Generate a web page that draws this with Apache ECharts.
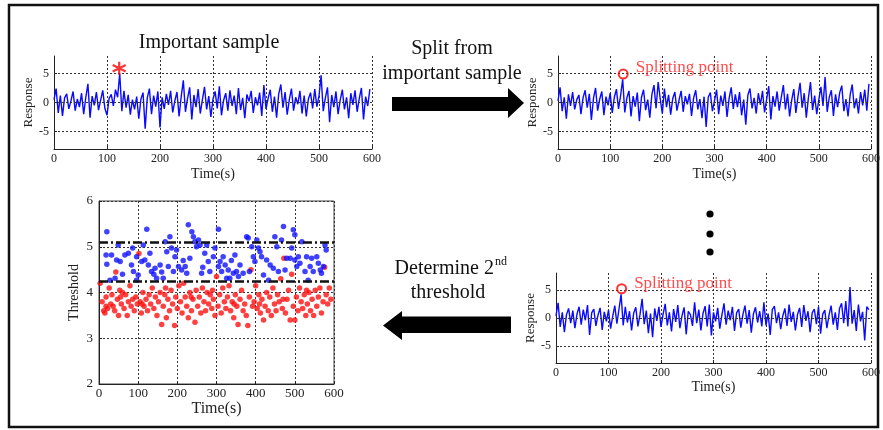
<!DOCTYPE html>
<html>
<head>
<meta charset="utf-8">
<script src="https://cdn.jsdelivr.net/npm/echarts@6/dist/echarts.min.js"></script>
<style>html,body{margin:0;padding:0;background:#fff;}#chart{width:883px;height:430px;}</style>
</head>
<body>
<div id="chart"></div>
<script>
// ---------------- DATA ----------------
const timeTicks = [0, 100, 200, 300, 400, 500, 600];
const responseTicks = [-5, 0, 5];
const thresholdTicks = [2, 3, 4, 5, 6];
const sampleStep = 4; // seconds between samples

// Response of the important sample (top-left)
const responseImportant = [
  0.5, 2.4, -1.8, 1.2, -2.3, 0.8, 1.5, -1.1, 0.3, 1.9,
  -1.4, 0.6, -0.8, 1.6, -2.0, 0.9, 3.2, -2.6, 1.1, -0.5,
  1.8, -1.3, 0.4, 2.1, -1.0, -2.2, 0.7, 1.4, -0.6, 2.2,
  0.9, 5.0, -1.5, 2.0, -0.9, 1.3, -2.1, 0.5, -1.2, 1.0,
  -2.8, 0.6, 1.7, -4.5, 0.8, 2.4, -2.0, 1.2, -0.7, 1.9,
  -4.3, 0.9, -1.1, 1.5, -0.4, 2.0, -1.7, 0.3, 1.8, -2.4,
  1.0, 3.8, -1.6, 0.7, 2.6, -2.9, 1.3, -0.8, 2.3, -1.9,
  0.5, 2.7, -1.2, 1.1, -2.5, 0.6, 1.9, -1.0, 2.8, -2.2,
  0.4, 1.6, -1.4, 2.1, -0.6, 1.2, -2.0, 2.5, -1.3, 0.8,
  -2.7, 1.4, 0.2, 2.0, -1.8, 0.9, -0.5, 1.7, -2.3, 3.0,
  -1.1, 0.7, 2.2, -1.6, 1.0, -2.6, 1.5, 3.1, -0.9, 1.8,
  -2.1, 0.5, 2.4, -1.4, 0.9, -0.3, 2.0, -1.9, 1.2, -2.4,
  0.6, 1.7, -1.0, 2.3, -0.7, 1.1, 4.7, -1.5, 0.8, 2.6,
  -3.4, 1.3, -0.8, 1.9, -2.0, 0.4, 2.2, -1.2, 0.9, -2.7,
  1.6, -0.4, 2.1, -1.6, 0.7, 2.5, -2.9, 1.0, -0.6, 2.3
];
// Response after first split (top-right)
const responseSplit1 = [
  0.3, 2.6, -1.5, 0.9, -2.8, 1.4, -0.6, 1.8, -1.2, 0.5,
  1.3, -2.0, 0.8, 2.1, -0.9, 1.5, -3.0, 0.7, 2.5, -1.4,
  0.6, 1.9, -2.2, 1.0, -0.5, 1.6, -1.8, 0.9, 2.3, -1.1,
  1.2, 4.0, -1.7, 0.8, 2.0, -2.4, 1.1, -0.7, 1.7, -3.2,
  0.9, 2.2, -1.3, 0.5, -2.6, 1.4, 3.0, -1.0, 3.5, 0.6,
  -1.9, 2.4, -0.8, 1.3, -2.1, 0.7, 1.8, -1.4, 0.4, 2.0,
  -1.6, 1.1, -0.3, 1.5, -2.3, 0.8, 2.1, -1.2, 0.6, -2.7,
  1.0, -4.2, 0.9, 1.7, -1.5, 0.3, 2.2, -2.0, 1.2, -0.6,
  1.9, -2.5, 0.7, 2.6, -1.1, 1.4, -0.8, 1.8, -2.2, 0.5,
  -3.8, 1.3, 2.4, -1.0, 0.8, -1.9, 1.6, -0.4, 2.0, -1.7,
  0.6, 2.8, -2.9, 1.1, -0.7, 1.9, -1.4, 0.9, 3.0, -1.2,
  1.5, -2.4, 0.4, 2.3, -1.8, 1.0, 3.4, -0.9, 1.6, -2.6,
  0.8, 3.5, -1.3, 1.2, -2.0, 0.5, 2.7, -0.6, 4.4, -1.6,
  0.9, 2.1, -2.3, 1.4, -0.8, 1.7, 2.9, -1.5, 0.6, -2.4,
  1.3, 3.1, -1.0, 0.7, -1.9, 1.8, -0.5, 2.2, -1.4, 3.2
];
// Response after a later split (bottom-right)
const responseSplit2 = [
  0.4, 2.7, -1.6, 1.0, -2.5, 0.6, 1.7, -0.9, 1.3, -1.8,
  0.7, 2.0, -1.2, 1.5, -0.4, 2.3, -3.0, 0.9, 1.6, -1.4,
  0.5, 1.8, -2.1, 1.1, -0.6, 1.4, -1.9, 0.3, 2.2, -1.0,
  1.6, 4.2, -1.3, 2.0, -0.8, 1.2, -2.2, 0.9, 1.9, -1.5,
  0.6, 3.4, -1.1, 1.3, -2.7, 0.8, -3.4, 1.7, -0.5, 2.0,
  -1.6, 0.7, 2.5, -1.3, 1.0, -2.4, 1.6, -0.7, 2.3, -1.8,
  0.4, 1.9, -2.9, 1.2, 0.6, -1.4, 2.8, -0.9, 1.5, -2.2,
  0.8, 2.1, -1.5, 2.4, -3.1, 1.0, -0.6, 1.8, -1.9, 0.5,
  2.6, -1.2, 1.3, -0.4, 2.0, -2.3, 0.9, 1.6, -1.7, 0.6,
  2.2, -1.0, 1.4, -2.6, 0.7, 1.9, -0.8, 1.2, -1.5, 2.8,
  -1.3, 0.8, -3.0, 1.5, 2.1, -0.9, 1.0, -2.0, 0.4, 1.7,
  -1.4, 2.4, -0.7, 1.1, -2.2, 0.6, 1.8, -1.6, 2.3, -0.5,
  1.2, -2.5, 0.9, 1.6, -1.1, 2.0, -2.8, 0.7, 1.4, -1.8,
  0.5, 2.2, -1.2, 1.0, -2.1, 1.7, 2.6, -0.9, 3.0, -1.5,
  5.5, -1.0, 1.4, -2.3, 2.4, -0.6, 1.1, -4.0, 2.0, 1.5
];
const importantPoint = [[123, 5.9]];
const splitPoint1 = [[125, 4.9]];
const splitPoint2 = [[125, 5.2]];

// Threshold scatter (bottom-left)
const thresholdBlue = [
  [20,5.33],[18,4.82],[20,4.62],[32,4.82],[49,5.04],[45,4.71],[54,4.68],[41,4.31],[28,4.27],[66,4.82],
  [75,4.86],[83,4.6],[86,4.97],[96,4.78],[88,4.46],[100,4.38],[96,4.27],[122,5.38],[113,5.04],[109,4.68],
  [117,4.71],[130,4.86],[126,4.6],[134,4.46],[147,4.31],[143,4.53],[156,4.6],[164,4.31],[169,5.11],[181,5.22],
  [173,4.89],[185,4.97],[177,4.57],[190,4.46],[194,4.78],[198,4.93],[203,4.57],[211,4.49],[224,4.42],[220,4.57],
  [228,5.48],[237,5.33],[232,4.75],[241,5.22],[245,5.11],[249,5.0],[254,5.15],[258,5.04],[262,4.42],[270,4.86],
  [275,5.04],[279,4.68],[283,4.46],[292,4.78],[296,4.97],[305,5.38],[305,4.57],[309,4.68],[313,4.46],[317,4.78],
  [322,4.6],[326,4.31],[330,4.49],[334,4.31],[343,4.42],[347,4.82],[351,4.46],[356,4.35],[360,4.6],[368,4.42],
  [377,5.22],[381,5.19],[384,4.46],[390,5.0],[394,4.78],[398,4.68],[403,5.15],[407,4.97],[411,4.89],[415,4.78],
  [420,4.38],[428,4.71],[433,4.27],[437,4.6],[445,4.53],[449,5.22],[454,5.0],[458,4.46],[466,5.15],[471,5.44],
  [475,4.49],[479,4.75],[488,4.75],[492,4.97],[496,5.37],[500,5.26],[500,4.71],[505,4.57],[509,4.78],[513,4.64],
  [518,5.11],[526,4.46],[530,4.78],[534,4.27],[539,4.57],[543,4.75],[547,4.46],[556,4.78],[560,4.64],[565,4.49],
  [568,4.42],[577,5.04],[580,4.93],[573,4.57],[60,4.4],[140,4.4],[160,4.45],[215,4.7],[265,4.55],[338,4.7]
];
const thresholdRed = [
  [3,4.2],[8,3.8],[12,3.6],[15,3.55],[18,3.9],[22,3.65],[26,4.1],[30,3.75],[33,3.95],[36,3.7],
  [40,3.6],[43,4.45],[47,3.85],[50,3.5],[53,4.05],[57,3.75],[60,4.0],[64,3.65],[68,3.95],[72,3.5],
  [75,3.8],[79,4.15],[82,3.7],[86,3.85],[90,3.6],[94,3.9],[98,3.75],[102,4.85],[105,3.8],[108,3.55],
  [112,4.0],[115,3.7],[120,3.85],[124,3.6],[128,3.95],[132,3.75],[136,4.1],[140,3.65],[144,3.9],[148,3.5],
  [152,3.8],[156,4.0],[160,3.3],[164,3.7],[168,3.95],[172,3.45],[176,3.85],[180,3.6],[184,4.05],[188,3.75],
  [193,3.28],[196,3.9],[200,3.65],[204,4.15],[208,3.8],[212,3.55],[216,4.2],[220,3.9],[224,3.7],[228,3.45],
  [232,4.0],[236,3.6],[240,3.85],[245,3.35],[248,4.05],[252,3.7],[256,3.9],[260,3.55],[264,4.1],[268,3.8],
  [272,3.6],[276,4.0],[280,3.75],[284,3.95],[288,3.65],[292,3.85],[296,3.5],[300,4.35],[304,3.7],[308,3.95],
  [312,3.55],[316,4.1],[320,3.8],[324,3.65],[328,3.9],[332,4.15],[336,3.6],[340,3.8],[344,3.45],[348,3.95],
  [352,3.7],[355,3.3],[360,3.85],[364,4.05],[368,3.6],[372,3.75],[376,3.5],[380,3.28],[384,3.9],[388,4.5],
  [392,3.7],[396,3.8],[400,4.15],[404,3.65],[408,3.95],[412,3.55],[416,3.85],[420,3.4],[424,3.7],[428,4.0],
  [432,3.6],[436,3.9],[440,3.5],[444,4.1],[448,3.75],[452,3.6],[456,3.95],[460,3.8],[464,4.3],[468,3.65],
  [472,4.75],[476,3.55],[480,3.85],[484,4.05],[488,3.4],[492,4.4],[496,3.7],[500,3.4],[504,3.9],[508,3.6],
  [512,4.1],[516,3.8],[520,3.65],[524,3.95],[528,3.5],[532,3.75],[536,4.0],[540,3.6],[544,3.85],[548,3.5],
  [552,4.05],[556,3.7],[560,3.9],[564,4.1],[568,3.55],[572,3.8],[576,4.55],[580,3.95],[584,3.75],[588,4.1],
  [592,3.85],[18,3.7],[55,3.9],[110,3.75],[170,4.1],[235,3.9],[290,4.05],[345,3.75],[410,3.75],[470,3.85],[530,4.05]
];
const thresholdLines = [5.1, 4.25];

// ---------------- CHART ----------------
const serif = "'Liberation Serif', 'Times New Roman', serif";
const ink = '#222';
const toXY = arr => arr.map((v, i) => [i * sampleStep, v]);

function timeAxis(gi, nameGap, labelSize, nameSize, margin) {
  return {
    gridIndex: gi, type: 'value', min: 0, max: 600, interval: 100,
    axisLine: { show: true, onZero: false, lineStyle: { color: ink, width: 1 } },
    axisTick: { show: true, inside: true, length: 3, lineStyle: { color: ink } },
    axisLabel: { fontFamily: serif, fontSize: labelSize, color: ink, margin: margin },
    splitLine: { show: true, lineStyle: { type: [2, 2], color: '#333', width: 1 } },
    name: 'Time(s)', nameLocation: 'middle', nameGap: nameGap,
    nameTextStyle: { fontFamily: serif, fontSize: nameSize, color: ink }
  };
}
function respAxis(gi, nameGap) {
  return {
    gridIndex: gi, type: 'value', min: -8, max: 8,
    axisLine: { show: true, onZero: false, lineStyle: { color: ink, width: 1 } },
    axisTick: { show: true, inside: true, length: 3, customValues: responseTicks, lineStyle: { color: ink } },
    axisLabel: { customValues: responseTicks, fontFamily: serif, fontSize: 12, color: ink, margin: 5 },
    splitLine: { show: false },
    name: 'Response', nameLocation: 'middle', nameGap: nameGap, nameRotate: 90,
    nameTextStyle: { fontFamily: serif, fontSize: 13, color: ink }
  };
}
const gridLinesY = {
  silent: true, symbol: ['none', 'none'], animation: false,
  label: { show: false },
  lineStyle: { type: [2, 2], color: '#333', width: 1 },
  data: responseTicks.map(v => ({ yAxis: v }))
};
function noiseSeries(gi, data) {
  return [
    { type: 'line', xAxisIndex: gi, yAxisIndex: gi, data: [], symbol: 'none', z: 1,
      markLine: gridLinesY },
    { type: 'line', xAxisIndex: gi, yAxisIndex: gi, data: toXY(data), symbol: 'none', z: 3,
      lineStyle: { color: '#0a0aff', width: 1.4 }, animation: false }
  ];
}
function splitMarker(gi, data, offY) {
  return {
    type: 'scatter', xAxisIndex: gi, yAxisIndex: gi, data: data, symbol: 'circle', symbolSize: 9, z: 5,
    itemStyle: { color: 'rgba(0,0,0,0)', borderColor: '#ff0000', borderWidth: 2 },
    label: { show: true, position: 'right', distance: 7, offset: [0, offY], formatter: 'Splitting point',
      fontFamily: serif, fontSize: 17, color: '#ff2020' }
  };
}

const chart = echarts.init(document.getElementById('chart'));
chart.setOption({
  animation: false,
  backgroundColor: '#ffffff',
  grid: [
    { left: 54, top: 56, width: 318, height: 93 },
    { left: 558, top: 56, width: 314, height: 93 },
    { left: 556, top: 273, width: 315, height: 90 },
    { left: 99, top: 201, width: 235, height: 183, show: true, borderColor: '#444', borderWidth: 1, backgroundColor: 'transparent' }
  ],
  xAxis: [
    timeAxis(0, 18, 12, 14, 4),
    timeAxis(1, 18, 12, 14, 4),
    timeAxis(2, 17, 12, 14, 4),
    timeAxis(3, 10, 13, 16, 3)
  ],
  yAxis: [
    respAxis(0, 17),
    respAxis(1, 19),
    respAxis(2, 18),
    {
      gridIndex: 3, type: 'value', min: 2, max: 6, interval: 1,
      axisLine: { show: true, lineStyle: { color: ink } },
      axisTick: { show: true, inside: true, length: 3, lineStyle: { color: ink } },
      axisLabel: { fontFamily: serif, fontSize: 13, color: ink, margin: 6 },
      splitLine: { show: true, lineStyle: { type: [2, 2], color: '#333', width: 1 } },
      name: 'Threshold', nameLocation: 'middle', nameGap: 18, nameRotate: 90,
      nameTextStyle: { fontFamily: serif, fontSize: 14, color: ink }
    }
  ],
  series: [
    ...noiseSeries(0, responseImportant),
    ...noiseSeries(1, responseSplit1),
    ...noiseSeries(2, responseSplit2),
    {
      type: 'scatter', xAxisIndex: 0, yAxisIndex: 0, data: importantPoint, z: 5,
      symbol: 'path://M0,-10L0,10M-8.66,-5L8.66,5M-8.66,5L8.66,-5', symbolSize: 13,
      itemStyle: { color: 'rgba(0,0,0,0)', borderColor: '#ff0000', borderWidth: 2.2 }
    },
    splitMarker(1, splitPoint1, -6),
    splitMarker(2, splitPoint2, -5),
    {
      type: 'scatter', xAxisIndex: 3, yAxisIndex: 3, data: thresholdRed, symbol: 'circle', symbolSize: 5.5, z: 3,
      itemStyle: { color: '#ff1010' }
    },
    {
      type: 'scatter', xAxisIndex: 3, yAxisIndex: 3, data: thresholdBlue, symbol: 'circle', symbolSize: 5.5, z: 3,
      itemStyle: { color: '#1010ff' },
      markLine: {
        silent: true, symbol: ['none', 'none'], animation: false, label: { show: false },
        lineStyle: { type: [9, 3, 2, 3], color: '#111', width: 2.5 },
        data: thresholdLines.map(v => ({ yAxis: v }))
      }
    }
  ],
  graphic: [
    { type: 'rect', shape: { x: 9, y: 5, width: 869, height: 422 }, style: { fill: 'none', stroke: '#111', lineWidth: 2.5 }, silent: true },
    { type: 'text', x: 209, y: 43, style: { text: 'Important sample', font: '20px ' + serif, fill: '#111', align: 'center', verticalAlign: 'middle' } },
    { type: 'text', x: 452, y: 49, style: { text: 'Split from', font: '20px ' + serif, fill: '#111', align: 'center', verticalAlign: 'middle' } },
    { type: 'text', x: 452, y: 74, style: { text: 'important sample', font: '20px ' + serif, fill: '#111', align: 'center', verticalAlign: 'middle' } },
    { type: 'polygon', shape: { points: [[392, 97], [508, 97], [508, 88], [524, 103], [508, 118], [508, 111], [392, 111]] }, style: { fill: '#000' } },
    { type: 'text', x: 494, y: 269, style: { text: 'Determine 2', font: '20px ' + serif, fill: '#111', align: 'right', verticalAlign: 'middle' } },
    { type: 'text', x: 495, y: 262, style: { text: 'nd', font: '12px ' + serif, fill: '#111', align: 'left', verticalAlign: 'middle' } },
    { type: 'text', x: 448, y: 293, style: { text: 'threshold', font: '20px ' + serif, fill: '#111', align: 'center', verticalAlign: 'middle' } },
    { type: 'polygon', shape: { points: [[383, 325.5], [402, 311], [402, 316.5], [511, 316.5], [511, 333], [402, 333], [402, 340]] }, style: { fill: '#000' } },
    { type: 'circle', shape: { cx: 710, cy: 214, r: 3.6 }, style: { fill: '#000' } },
    { type: 'circle', shape: { cx: 710, cy: 234, r: 3.6 }, style: { fill: '#000' } },
    { type: 'circle', shape: { cx: 710, cy: 252, r: 3.6 }, style: { fill: '#000' } }
  ]
});
</script>
</body>
</html>
